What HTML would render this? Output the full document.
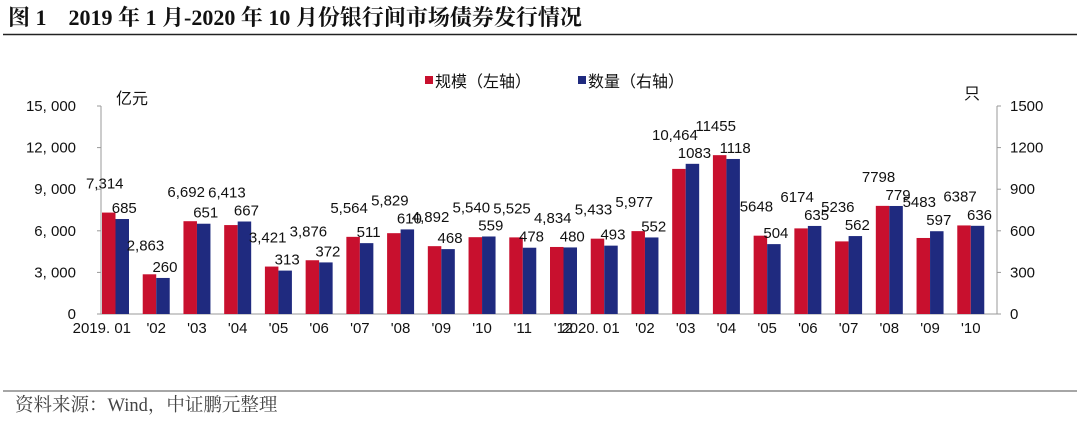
<!DOCTYPE html>
<html><head><meta charset="utf-8">
<style>
body{margin:0;background:#fff;}
svg{display:block;font-family:"Liberation Sans","Noto Sans CJK SC",sans-serif;}
</style></head><body>
<svg width="1080" height="421" viewBox="0 0 1080 421">
<text x="8" y="25" font-family="'Liberation Serif','Noto Serif CJK SC',serif" font-weight="bold" font-size="22" fill="#111">图 1　2019 年 1 月-2020 年 10 月份银行间市场债券发行情况</text>
<line x1="3" y1="34.5" x2="1077" y2="34.5" stroke="#222" stroke-width="1.5"/>
<line x1="3" y1="391" x2="1077" y2="391" stroke="#888" stroke-width="1.5"/>
<text x="15" y="411" font-family="'Liberation Serif','Noto Serif CJK SC',serif" font-size="18.5" fill="#444">资料来源：Wind，中证鹏元整理</text>
<g>
<rect x="425" y="76" width="8" height="8" fill="#c8102e"/>
<text x="435" y="87" font-size="16" fill="#111">规模（左轴）</text>
<rect x="578" y="76" width="8" height="8" fill="#1f2a7f"/>
<text x="588" y="87" font-size="16" fill="#111">数量（右轴）</text>
</g>
<text x="116" y="104" font-size="16" fill="#111">亿元</text>
<text x="964" y="99" font-size="16" fill="#111">只</text>
<g id="plot"></g>
</svg>
<script>
const categories=["2019.01","'02","'03","'04","'05","'06","'07","'08","'09","'10","'11","'12","2020.01","'02","'03","'04","'05","'06","'07","'08","'09","'10"];
const scaleValues=[7314,2863,6692,6413,3421,3876,5564,5829,4892,5540,5525,4834,5433,5977,10464,11455,5648,6174,5236,7798,5483,6387];
const countValues=[685,260,651,667,313,372,511,610,468,559,478,480,493,552,1083,1118,504,635,562,779,597,636];
const scaleLabels=["7,314","2,863","6,692","6,413","3,421","3,876","5,564","5,829","4,892","5,540","5,525","4,834","5,433","5,977","10,464","11455","5648","6174","5236","7798","5483","6387"];
const leftTicks=[0,3000,6000,9000,12000,15000];
const leftTickLabels=["0","3, 000","6, 000","9, 000","12, 000","15, 000"];
const rightTicks=[0,300,600,900,1200,1500];

const NS="http://www.w3.org/2000/svg";
const g=document.getElementById('plot');
const X0=101,X1=997,Y0=314,Y1=106;
const band=(X1-X0)/categories.length;
const yL=v=>Y0-(v/15000)*(Y0-Y1);
const yR=v=>Y0-(v/1500)*(Y0-Y1);
const xB=i=>X0+i*band;
function mk(tag,attrs){const e=document.createElementNS(NS,tag);for(const k in attrs)e.setAttribute(k,attrs[k]);g.appendChild(e);return e;}
function txt(x,y,s,anchor,size){const e=mk('text',{x:x,y:y,'text-anchor':anchor,'font-size':size,fill:'#111'});e.textContent=s;return e;}

let a=mk('line',{x1:X0,y1:Y1,x2:X0,y2:Y0,stroke:'#999'});


a=mk('line',{x1:X1,y1:Y1,x2:X1,y2:Y0,stroke:'#999'});


a=mk('line',{x1:X0,y1:Y0,x2:X1,y2:Y0,stroke:'#999'});



leftTicks.forEach((v,i)=>{
  const t=txt(76,yL(v)+5,leftTickLabels[i],'end',15);
  
  
  const l=mk('line',{x1:X0-4,y1:yL(v),x2:X0,y2:yL(v),stroke:'#999'});
  
  
});
rightTicks.forEach(v=>{
  const t=txt(1010,yR(v)+5,String(v),'start',15);
  
  
  const l=mk('line',{x1:X1,y1:yR(v),x2:X1+4,y2:yR(v),stroke:'#999'});
  
  
});

const bw=13.5;
categories.forEach((c,i)=>{
  const x=xB(i)+1;
  const r=mk('rect',{x:x,y:yL(scaleValues[i]),width:bw,height:Y0-yL(scaleValues[i]),fill:'#c8102e'});
  
  
  const b=mk('rect',{x:x+bw,y:yR(countValues[i]),width:bw,height:Y0-yR(countValues[i]),fill:'#1f2a7f'});
  
  
  const top=Math.min(yL(scaleValues[i]),yR(countValues[i]));
  const lr=txt(x+bw/2-4,Math.min(yL(scaleValues[i]),top)-24,scaleLabels[i],'middle',15);
  
  
  const lb=txt(x+bw*1.5+2,yR(countValues[i])-6,String(countValues[i]),'middle',15);
  
  
  const anchor=(c.length>4)?'end':'middle';
  const cx=(c.length>4)?x+bw*2+2:x+bw;
  const cl=txt(cx,333,c.replace('.','. '),anchor,15);
  
  
});
</script>
</body></html>
